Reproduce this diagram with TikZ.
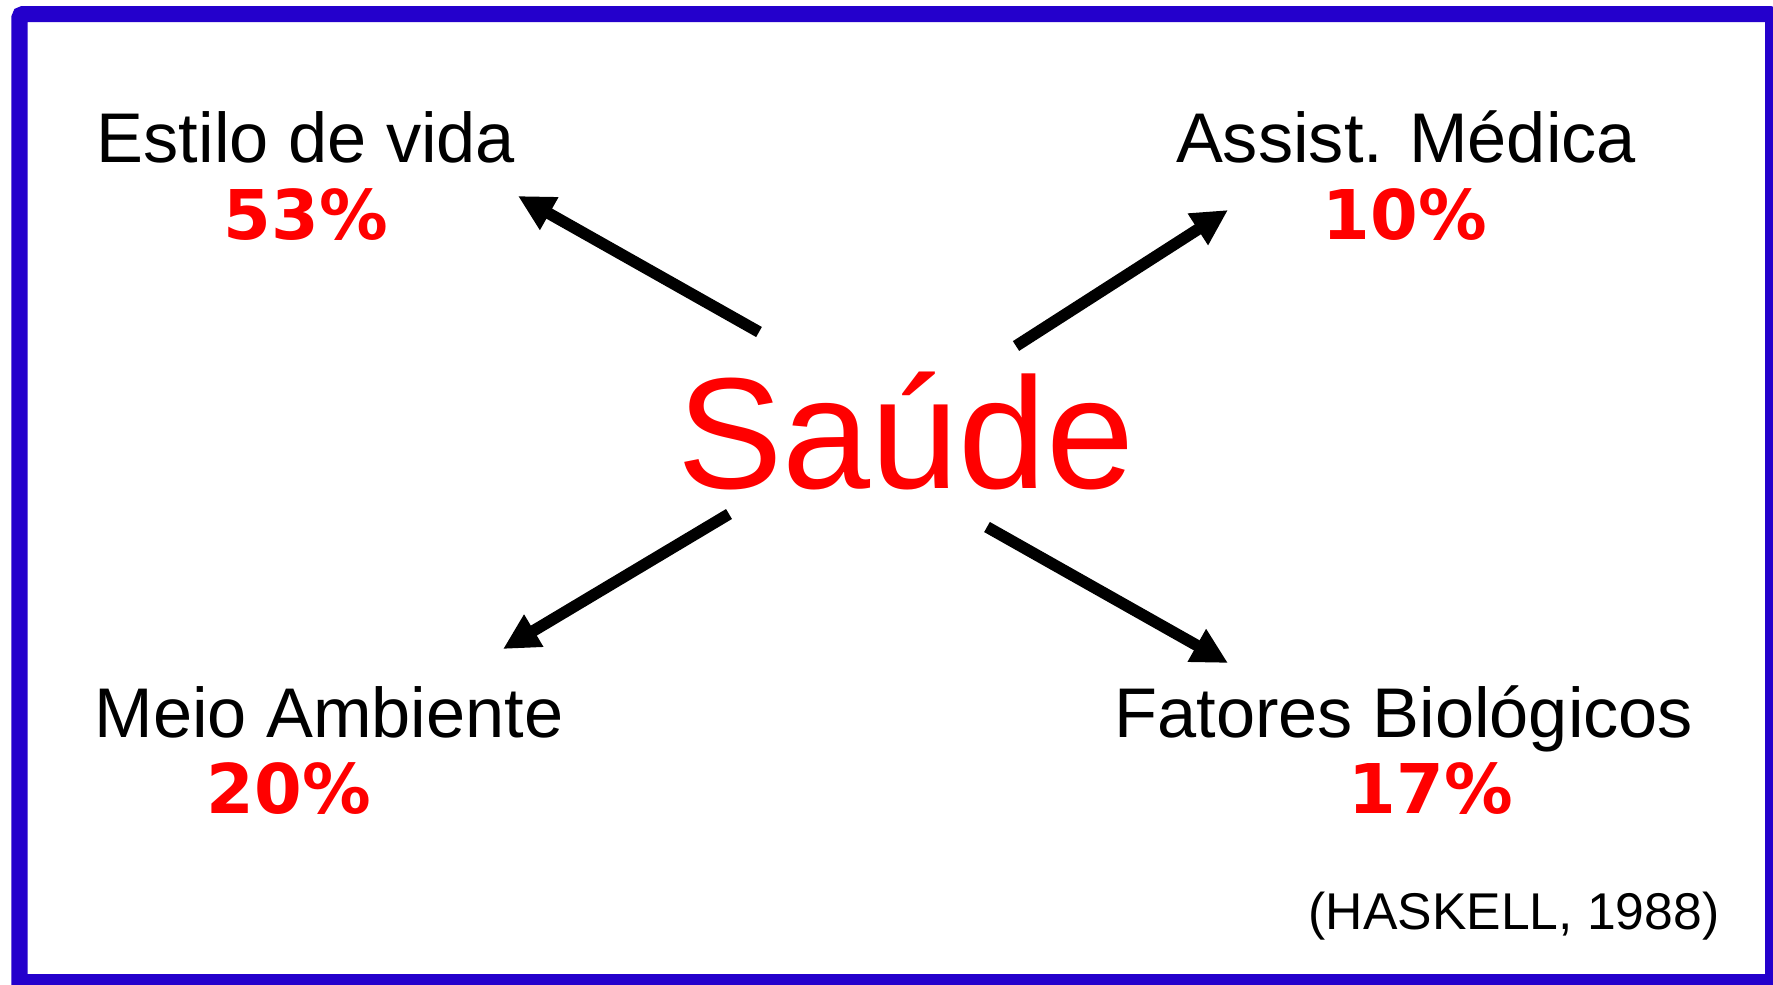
\documentclass[tikz,border=0pt]{standalone}
\usepackage{fontspec}
\setmainfont{Liberation Sans}
\newfontfamily\pctfont{DejaVu Sans}
\usetikzlibrary{arrows.meta}
\definecolor{frameblue}{RGB}{36,0,204}
\definecolor{txtred}{RGB}{255,0,0}
\tikzset{
  lbltext/.style={anchor=base, inner sep=0pt, text=black, font=\fontsize{20}{24}\selectfont},
  pcttext/.style={anchor=base, inner sep=0pt, text=txtred, font=\pctfont\bfseries\fontsize{19.5}{23}\selectfont},
  titletext/.style={anchor=base, inner sep=0pt, text=txtred, font=\fontsize{45}{54}\selectfont},
  reftext/.style={anchor=base, inner sep=0pt, text=black, font=\fontsize{14.7}{18}\selectfont},
  conn/.style={line width=3.3pt, line cap=butt, -{Triangle[length=10.2pt,width=10pt]}},
  framebox/.style={draw=frameblue, line width=4.55pt}
}
\begin{document}
\begin{tikzpicture}[x=0.01cm,y=-0.01cm]
\useasboundingbox (0,0) rectangle (1773,984);
\fill[white] (0,0) rectangle (1773,984);
\draw[framebox] (19.5,982) [rounded corners=1pt] -- (19.5,14) -- (1773,14) [sharp corners] -- (1773,982) -- cycle;

\node[titletext] (saude) at (906,488) {Saúde};

\node[lbltext] (estilo) at (306,162) {Estilo de vida};
\node[pcttext] (p53) at (306,239) {53\%};
\node[lbltext] (assist) at (1406,162) {Assist. Médica};
\node[pcttext] (p10) at (1405,239) {10\%};
\node[lbltext] (meio) at (329,737) {Meio Ambiente};
\node[pcttext] (p20) at (289,813) {20\%};
\node[lbltext] (fatores) at (1404,737) {Fatores Biológicos};
\node[pcttext] (p17) at (1431,813) {17\%};
\node[reftext] (haskell) at (1514,929) {(HASKELL, 1988)};

\coordinate (s1) at (759,332); \coordinate (t1) at (518,196);
\coordinate (s2) at (1016,346); \coordinate (t2) at (1228,210);
\coordinate (s3) at (729,514); \coordinate (t3) at (503,649);
\coordinate (s4) at (987,527); \coordinate (t4) at (1228,663);
\draw[conn] (s1) -- (t1);
\draw[conn] (s2) -- (t2);
\draw[conn] (s3) -- (t3);
\draw[conn] (s4) -- (t4);
\end{tikzpicture}
\end{document}
